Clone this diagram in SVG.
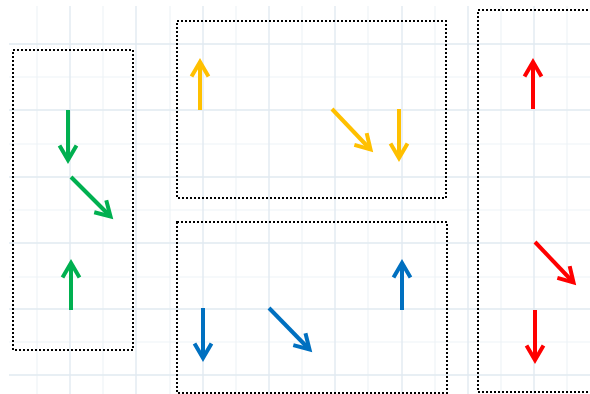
<svg xmlns="http://www.w3.org/2000/svg" width="590" height="394" viewBox="0 0 590 394">
<style>
.minor{stroke:#eef3f7;stroke-width:1.2;fill:none}
.major{stroke:#e1eaf1;stroke-width:1.4;fill:none}
.box{fill:none;stroke:#000;stroke-width:2;stroke-dasharray:2 2}
.arr{fill:none;stroke-width:4;stroke-linecap:butt}
.g{stroke:#00b050}.y{stroke:#ffc000}.b{stroke:#0070c0}.r{stroke:#ff0000}
.head{fill:none;stroke-width:4;stroke-linejoin:miter;stroke-miterlimit:10}
</style>
<defs>
<marker id="mg" markerUnits="userSpaceOnUse" orient="auto" overflow="visible" markerWidth="1" markerHeight="1"><path class="head g" d="M-14.5,-8.5 L0,0 L-14.5,8.5"/></marker>
<marker id="my" markerUnits="userSpaceOnUse" orient="auto" overflow="visible" markerWidth="1" markerHeight="1"><path class="head y" d="M-14.5,-8.5 L0,0 L-14.5,8.5"/></marker>
<marker id="mb" markerUnits="userSpaceOnUse" orient="auto" overflow="visible" markerWidth="1" markerHeight="1"><path class="head b" d="M-14.5,-8.5 L0,0 L-14.5,8.5"/></marker>
<marker id="mr" markerUnits="userSpaceOnUse" orient="auto" overflow="visible" markerWidth="1" markerHeight="1"><path class="head r" d="M-14.5,-8.5 L0,0 L-14.5,8.5"/></marker>
</defs>
<rect width="590" height="394" fill="#fff"/>
<g id="grid">
<path class="minor" d="M37,6V394M103,6V394M170,6V394M236,6V394M302,6V394M368,6V394M435,6V394M501,6V394M567,6V394M9,77H590M9,144H590M9,210H590M9,277H590M9,342H590"/>
<path class="major" d="M70,6V394M136,6V394M203,6V394M269,6V394M335,6V394M402,6V394M468,6V394M534,6V394M9,44H590M9,110H590M9,177H590M9,243H590M9,309H590M9,375H590"/>
</g>
<g id="box-left"><rect class="box" x="13" y="50" width="120" height="300"/></g>
<g id="box-top"><rect class="box" x="177" y="21" width="269" height="177"/></g>
<g id="box-bottom"><rect class="box" x="177" y="222" width="270" height="171"/></g>
<g id="box-right"><rect class="box" x="478" y="10" width="120" height="382"/></g>
<g id="connectors">
<line class="arr g" x1="68" y1="110" x2="68" y2="160" marker-end="url(#mg)"/>
<line class="arr g" x1="71" y1="177" x2="110.5" y2="216.5" marker-end="url(#mg)"/>
<line class="arr g" x1="71" y1="310" x2="71" y2="263" marker-end="url(#mg)"/>
<line class="arr y" x1="200" y1="110" x2="200" y2="62" marker-end="url(#my)"/>
<line class="arr y" x1="332" y1="109" x2="370.5" y2="149.5" marker-end="url(#my)"/>
<line class="arr y" x1="399" y1="109" x2="399" y2="158" marker-end="url(#my)"/>
<line class="arr b" x1="203" y1="308" x2="203" y2="358" marker-end="url(#mb)"/>
<line class="arr b" x1="269" y1="308" x2="309.5" y2="349.5" marker-end="url(#mb)"/>
<line class="arr b" x1="402" y1="310" x2="402" y2="263" marker-end="url(#mb)"/>
<line class="arr r" x1="533" y1="109" x2="533" y2="62" marker-end="url(#mr)"/>
<line class="arr r" x1="535" y1="242" x2="573.5" y2="282.5" marker-end="url(#mr)"/>
<line class="arr r" x1="535" y1="310" x2="535" y2="360" marker-end="url(#mr)"/>
</g>
</svg>
